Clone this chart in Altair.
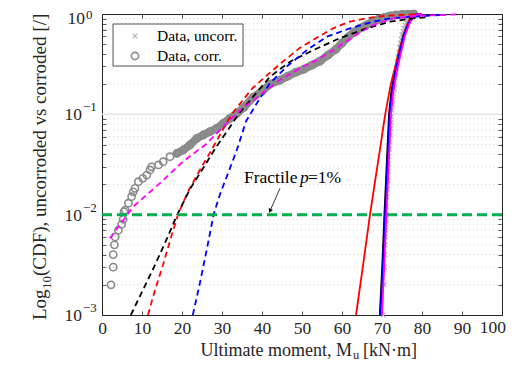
import altair as alt
import pandas as pd

FONT = "Liberation Serif"
INK = "#262626"

# ---------------- data ----------------
# corroded specimens, empirical CDF (grey circles)
corr_x = [2.25, 2.8, 2.8, 3.1, 3.3, 4.1, 4.9, 5.3, 5.5, 5.8, 6.6, 7.4, 7.8, 8.25, 9.1,
          10.2, 11.2, 12.0, 12.4, 14.1, 15.3, 17.0, 18.7, 20.3, 22.0, 23.7, 25.3, 27.0,
          28.7, 30.3, 32.0, 33.7, 35.5, 37.8, 40.0, 42.0, 44.5, 46.5, 48.5, 50.5, 52.5,
          54.5, 56.5, 58.5, 60.0, 61.5, 63.0, 64.5, 66.0, 67.5, 69.0, 70.5, 72.0, 73.5,
          75.0, 76.5, 78.0]
corr_p = [0.002, 0.003, 0.004, 0.005, 0.006, 0.007, 0.008, 0.009, 0.0107, 0.0111, 0.013,
          0.0151, 0.0169, 0.0183, 0.0213, 0.023, 0.0248, 0.0279, 0.030, 0.0313, 0.0337,
          0.0378, 0.0408, 0.0441, 0.0495, 0.0577, 0.0622, 0.0672, 0.0726, 0.0813, 0.0913,
          0.102, 0.1175, 0.148, 0.170, 0.200, 0.219, 0.240, 0.263, 0.282, 0.309, 0.339,
          0.389, 0.447, 0.513, 0.589, 0.661, 0.724, 0.776, 0.832, 0.881, 0.923, 0.955,
          0.977, 0.989, 0.995, 1.0]

# uncorroded specimens, empirical CDF (light grey crosses)
unc_x = [70.3, 70.5, 70.6, 70.7, 70.8, 70.85, 70.9, 70.95, 71.0, 71.05, 71.15, 71.25,
         71.35, 71.45, 71.55, 71.65, 71.75, 71.85, 71.95, 72.05, 72.15, 72.25, 72.35,
         72.45, 72.6, 72.75, 72.9, 73.05, 73.2, 73.35, 73.5, 73.65, 73.8, 74.0, 74.2,
         74.4, 74.6, 74.8, 75.0, 75.25, 75.5, 75.8, 76.1, 76.4, 76.8, 77.2, 77.7, 78.3]
unc_p = [0.001, 0.002, 0.003, 0.004, 0.005, 0.006, 0.007, 0.008, 0.009, 0.01, 0.012,
         0.015, 0.018, 0.022, 0.027, 0.032, 0.038, 0.045, 0.053, 0.062, 0.072, 0.083,
         0.095, 0.11, 0.125, 0.14, 0.16, 0.18, 0.2, 0.23, 0.26, 0.29, 0.33, 0.37, 0.41,
         0.46, 0.51, 0.56, 0.62, 0.67, 0.72, 0.77, 0.82, 0.86, 0.9, 0.93, 0.96, 0.98]

# fitted distributions, corroded (dashed)
red_d_x = [11.5, 13.3, 15.3, 17.0, 19.0, 21.5, 24.5, 27.5, 30.0, 32.4, 35.0, 37.5, 41.0,
           45.0, 49.5, 53.7, 57.8, 62.0, 66.2, 70.3, 74.5, 78.7]
red_d_p = [0.001, 0.0018, 0.0032, 0.0055, 0.01, 0.017, 0.028, 0.045, 0.068, 0.1, 0.135,
           0.18, 0.24, 0.33, 0.46, 0.58, 0.72, 0.84, 0.91, 0.955, 0.978, 0.99]
blk_d_x = [7.2, 10.0, 13.0, 16.0, 18.8, 22.0, 25.5, 28.5, 31.5, 34.1, 37.8, 42.0, 47.0,
           52.8, 59.5, 66.2, 72.0, 77.8, 81.2]
blk_d_p = [0.001, 0.0017, 0.003, 0.0055, 0.01, 0.018, 0.03, 0.047, 0.07, 0.1, 0.15, 0.237,
           0.335, 0.436, 0.575, 0.72, 0.838, 0.906, 0.93]
blu_d_x = [22.7, 24.5, 26.2, 27.9, 29.5, 31.2, 33.7, 36.0, 38.7, 42.0, 46.2, 51.2, 56.2,
           62.0, 67.8, 72.0, 77.8, 84.5, 86.0]
blu_d_p = [0.001, 0.0021, 0.0045, 0.01, 0.016, 0.024, 0.044, 0.085, 0.129, 0.204, 0.3,
           0.436, 0.594, 0.72, 0.838, 0.906, 0.94, 0.977, 0.98]
mag_d_x = [2.0, 7.8, 14.5, 20.3, 26.2, 29.5, 34.5, 39.5, 44.5, 49.5, 53.7, 57.8, 62.8,
           67.8, 72.8, 77.8, 84.5, 88.7]
mag_d_p = [0.0058, 0.012, 0.0206, 0.034, 0.051, 0.07, 0.11, 0.155, 0.22, 0.288, 0.348,
           0.436, 0.594, 0.776, 0.906, 0.955, 0.977, 0.99]

# fitted distributions, uncorroded (solid)
red_s_x = [63.5, 65.2, 67.0, 68.3, 69.5, 70.8, 72.2, 73.5, 74.5, 75.4, 76.3, 77.0, 77.8,
           78.5, 80.0]
red_s_p = [0.001, 0.003, 0.01, 0.022, 0.045, 0.1, 0.2, 0.32, 0.47, 0.6, 0.78, 0.9, 0.98,
           0.998, 1.0]
blk_s_x = [69.45, 70.05, 70.6, 71.15, 71.75, 72.35, 73.05, 74.05, 75.25, 76.45, 77.45,
           78.45, 79.8]
blk_s_p = [0.001, 0.003, 0.01, 0.03, 0.1, 0.17, 0.25, 0.38, 0.6, 0.8, 0.93, 0.985, 1.0]
blu_s_x = [69.6, 70.2, 70.75, 71.3, 71.9, 72.5, 73.2, 74.2, 75.4, 76.6, 77.6, 78.6, 80.0]
blu_s_p = [0.001, 0.003, 0.01, 0.03, 0.1, 0.17, 0.25, 0.38, 0.6, 0.8, 0.93, 0.985, 1.0]
mag_s_x = [70.0, 70.55, 71.1, 71.65, 72.25, 72.85, 73.55, 74.55, 75.7, 76.85, 77.8, 78.8,
           80.0]
mag_s_p = [0.001, 0.003, 0.01, 0.03, 0.1, 0.17, 0.25, 0.38, 0.6, 0.8, 0.93, 0.985, 1.0]

fractile_p = 0.01

x_ticks = list(range(0, 101, 10))
y_major = [1, 0.1, 0.01, 0.001]
y_exp = ["0", "\u22121", "\u22122", "\u22123"]
y_minor = [m * 10.0 ** e for e in (-3, -2, -1) for m in range(2, 10)]

# annotation anchor (data units)
annot_x, annot_p = 35.5, 0.0232
arrow_x = [44.5, 42.0]
arrow_p = [0.0183, 0.0109]

# ---------------- chart ----------------
xs = alt.Scale(domain=[0, 100], nice=False, zero=False)
ys = alt.Scale(type="log", domain=[0.001, 1], nice=False)

def X(field="x", axis=None):
    return alt.X(f"{field}:Q", scale=xs, axis=axis)

def Y(field="p", axis=None):
    return alt.Y(f"{field}:Q", scale=ys, axis=axis)

tick_common = dict(domain=False, grid=False, offset=-4, tickSize=4, tickColor=INK,
                   tickWidth=0.8, title=None)
ax_bottom = alt.Axis(orient="bottom", values=x_ticks, labelFont=FONT, labelFontSize=17.5,
                     labelColor=INK, labelPadding=4, labelFlush=False, labelOverlap=False,
                     labelExpr="datum.value == 100 ? '' : datum.label",
                     **tick_common)
ax_top = alt.Axis(orient="top", values=x_ticks, labels=False, **tick_common)
ax_left = alt.Axis(orient="left", values=y_major + y_minor, labels=False, **tick_common)
ax_right = alt.Axis(orient="right", values=y_major + y_minor, labels=False, **tick_common)

df_corr = pd.DataFrame({"x": corr_x, "p": corr_p, "i": range(len(corr_x))})
df_unc = pd.DataFrame({"x": unc_x, "p": unc_p})

layers = []

# grid lines
layers.append(alt.Chart(pd.DataFrame({"p": y_minor})).mark_rule(
    color="#c8c8c8", strokeWidth=0.8, strokeDash=[1, 3]).encode(y=Y()))
layers.append(alt.Chart(pd.DataFrame({"p": [0.1]})).mark_rule(
    color="#e3e3e3", strokeWidth=1.5).encode(y=Y()))

# uncorroded data (crosses) -> bottom / left axes
layers.append(alt.Chart(df_unc).mark_point(
    shape="M -1 -1 L 1 1 M -1 1 L 1 -1", filled=False, size=22, strokeWidth=1.3,
    color="#b4b4b4", opacity=1).encode(x=X(axis=ax_bottom), y=Y(axis=ax_left)))

# corroded data: dense band + circles -> top / right axes
layers.append(alt.Chart(df_corr).transform_filter("datum.p >= 0.04").mark_line(
    color="#8c8c8c", strokeWidth=8, strokeCap="round", strokeJoin="round").encode(
    x=X(), y=Y(), order="i:Q"))
layers.append(alt.Chart(df_corr).mark_point(
    shape="circle", filled=False, size=52, strokeWidth=1.6, color="#8a8a8a",
    opacity=1).encode(x=X(axis=ax_top), y=Y(axis=ax_right)))

def curve(xv, pv, color, dashed, width):
    d = pd.DataFrame({"x": xv, "p": pv, "i": range(len(xv))})
    kw = dict(color=color, strokeWidth=width)
    if dashed:
        kw["strokeDash"] = [6, 4]
    return alt.Chart(d).mark_line(**kw).encode(x=X(), y=Y(), order="i:Q")

layers += [
    curve(blk_s_x, blk_s_p, "#000000", False, 1.8),
    curve(red_s_x, red_s_p, "#ff0000", False, 1.8),
    curve(blu_s_x, blu_s_p, "#0000ff", False, 1.8),
    curve(mag_s_x, mag_s_p, "#ff00ff", False, 1.8),
    curve(red_d_x, red_d_p, "#ff0000", True, 1.8),
    curve(blk_d_x, blk_d_p, "#000000", True, 1.8),
    curve(blu_d_x, blu_d_p, "#0000ff", True, 1.8),
    curve(mag_d_x, mag_d_p, "#ff00ff", True, 1.8),
]

# fractile line
layers.append(alt.Chart(pd.DataFrame({"p": [fractile_p]})).mark_rule(
    color="#00b050", strokeWidth=3, strokeDash=[10, 5]).encode(y=Y()))

# annotation text + arrow
df_ann = pd.DataFrame({"x": [annot_x], "p": [annot_p]})
txt = dict(font=FONT, fontSize=17.5, color="#000000", baseline="middle", align="left")
layers.append(alt.Chart(df_ann).mark_text(text="Fractile", **txt).encode(x=X(), y=Y()))
layers.append(alt.Chart(df_ann).mark_text(text="p", fontStyle="italic", dx=56, **txt)
              .encode(x=X(), y=Y()))
layers.append(alt.Chart(df_ann).mark_text(text="=1%", dx=64, **txt).encode(x=X(), y=Y()))
df_arr = pd.DataFrame({"x": arrow_x, "p": arrow_p, "i": [0, 1]})
layers.append(alt.Chart(df_arr).mark_line(color="#000000", strokeWidth=0.8).encode(
    x=X(), y=Y(), order="i:Q"))
layers.append(alt.Chart(df_arr.iloc[[1]]).mark_point(
    shape="triangle-up", filled=True, size=22, color="#000000", angle=204, opacity=1).encode(
    x=X(), y=Y()))

# last x tick label, kept inside the page
df_xl = pd.DataFrame({"x": [100], "lab": ["100"]})
layers.append(alt.Chart(df_xl).mark_text(
    align="right", baseline="top", fontSize=17.5, font=FONT, color=INK, dx=4).encode(
    x=X(), y=alt.value(305), text="lab:N"))

# y tick labels 10^k
df_yt = pd.DataFrame({"p": y_major, "e": y_exp})
base_t = dict(font=FONT, color=INK)
layers.append(alt.Chart(df_yt).transform_filter("datum.p == 1").mark_text(
    text="10", align="right", baseline="middle", fontSize=17.5, dy=5, **base_t).encode(
    x=alt.value(-17), y=Y()))
layers.append(alt.Chart(df_yt).transform_filter("datum.p < 1").mark_text(
    text="10", align="right", baseline="middle", fontSize=17.5, dy=1, **base_t).encode(
    x=alt.value(-20), y=Y()))
layers.append(alt.Chart(df_yt).transform_filter("datum.p == 1").mark_text(
    align="left", baseline="middle", fontSize=13, dy=1, **base_t).encode(
    x=alt.value(-16), y=Y(), text="e:N"))
layers.append(alt.Chart(df_yt).transform_filter("datum.p < 1").mark_text(
    align="left", baseline="middle", fontSize=13, dy=-7, **base_t).encode(
    x=alt.value(-19), y=Y(), text="e:N"))

# axis titles (with sub-scripts)
one = pd.DataFrame({"k": [0]})
layers.append(alt.Chart(one).mark_text(
    text="Ultimate moment, M", align="right", baseline="alphabetic", fontSize=18,
    **base_t).encode(x=alt.value(250), y=alt.value(342)))
layers.append(alt.Chart(one).mark_text(
    text="u", align="left", baseline="alphabetic", fontSize=12.5, **base_t).encode(
    x=alt.value(251), y=alt.value(344.5)))
layers.append(alt.Chart(one).mark_text(
    text="[kN\u00b7m]", align="left", baseline="alphabetic", fontSize=18,
    **base_t).encode(x=alt.value(261), y=alt.value(342)))
layers.append(alt.Chart(one).mark_text(
    text="Log", align="left", baseline="alphabetic", fontSize=19, angle=270,
    **base_t).encode(x=alt.value(-56), y=alt.value(306)))
layers.append(alt.Chart(one).mark_text(
    text="10", align="left", baseline="alphabetic", fontSize=13, angle=270,
    **base_t).encode(x=alt.value(-51), y=alt.value(275)))
layers.append(alt.Chart(one).mark_text(
    text="(CDF), uncorroded vs corroded [/]", align="left", baseline="alphabetic",
    fontSize=19, angle=270, **base_t).encode(x=alt.value(-56), y=alt.value(262)))

# legend
layers.append(alt.Chart(one).mark_rect(
    fill="#ffffff", stroke=INK, strokeWidth=0.8).encode(
    x=alt.value(11), x2=alt.value(141), y=alt.value(10), y2=alt.value(52)))
layers.append(alt.Chart(one).mark_point(
    shape="M -1 -1 L 1 1 M -1 1 L 1 -1", filled=False, size=22, strokeWidth=1.3,
    color="#b4b4b4", opacity=1).encode(x=alt.value(33), y=alt.value(22)))
layers.append(alt.Chart(one).mark_point(
    shape="circle", filled=False, size=52, strokeWidth=1.6, color="#8a8a8a",
    opacity=1).encode(x=alt.value(33), y=alt.value(42)))
leg_t = dict(font=FONT, fontSize=15.5, color="#000000", align="left", baseline="middle")
layers.append(alt.Chart(one).mark_text(text="Data, uncorr.", **leg_t).encode(
    x=alt.value(55), y=alt.value(22)))
layers.append(alt.Chart(one).mark_text(text="Data, corr.", **leg_t).encode(
    x=alt.value(55), y=alt.value(42)))

chart = alt.layer(*layers).resolve_axis(x="independent", y="independent").properties(
    width=400, height=301,
    autosize=alt.AutoSizeParams(type="none"),
    padding={"left": 94, "top": 6, "right": 4, "bottom": 44},
    background="#ffffff",
).configure_view(stroke=INK, strokeWidth=1)

chart.save("out.html", embed_options={"renderer": "svg", "actions": False})
